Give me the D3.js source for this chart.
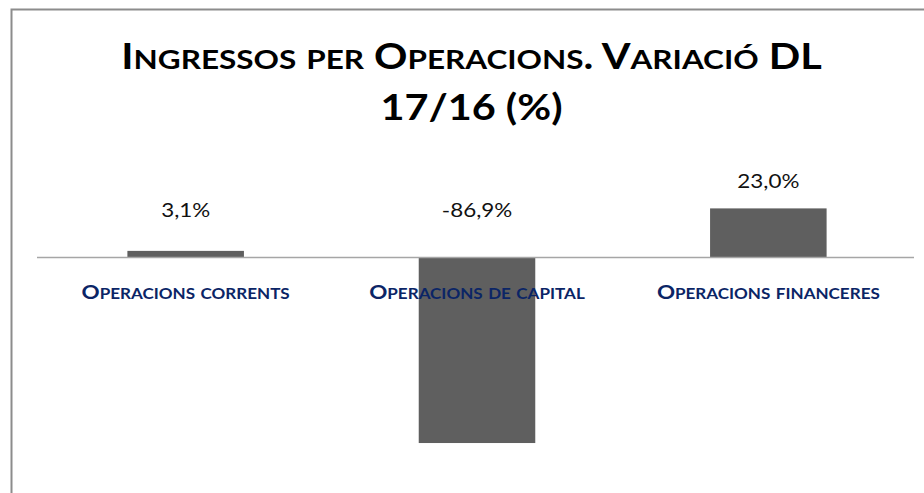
<!DOCTYPE html>
<html>
<head>
<meta charset="utf-8">
<script src="https://cdn.jsdelivr.net/npm/d3@7"></script>
<style>body{margin:0;background:#fff;}</style>
</head>
<body>
<div id="chart"></div>
<script>
const categories = ["Operacions corrents", "Operacions de capital", "Operacions financeres"];
const values = [3.1, -86.9, 23.0];
const titleLines = ["Ingressos per Operacions. Variació DL", "17/16 (%)"];

const W = 924, H = 493;
const STRETCH = 1.15;      // the original picture is stretched sideways
const FONT = "Lato, 'Open Sans', sans-serif";
const SC = 0.76;           // small caps size ratio

const svg = d3.select("#chart").append("svg")
    .attr("width", W)
    .attr("height", H);

// chart frame
svg.append("rect")
    .attr("x", 11.5).attr("y", 9.5)
    .attr("width", W).attr("height", H)
    .attr("fill", "#fff")
    .attr("stroke", "#8c8c8c")
    .attr("stroke-width", 2);

const x = d3.scaleBand()
    .domain(categories)
    .range([40, 914])
    .paddingInner(0.6)
    .paddingOuter(0.3);

const y = d3.scaleLinear()
    .domain([-100, 40])
    .range([471, 172.1]);

// write str into a text element, lowercase runs as smaller capitals
function smallCaps(text, str, size) {
    let runs = [];
    for (const c of str) {
        let low = c !== c.toUpperCase();
        if (runs.length && runs[runs.length - 1].low === low) runs[runs.length - 1].s += c;
        else runs.push({low: low, s: c});
    }
    runs.forEach(r => {
        text.append("tspan")
            .attr("font-size", r.low ? size * SC : size)
            .text(r.s.toUpperCase());
    });
}

function stretchedText(cx, by) {
    return svg.append("g")
        .attr("transform", "translate(" + cx + "," + by + ") scale(" + STRETCH + ",1)")
        .append("text")
        .attr("text-anchor", "middle")
        .attr("font-family", FONT);
}

// title
titleLines.forEach((line, i) => {
    let t = stretchedText(471.5, 68.5 + i * 51.5)
        .attr("font-weight", "bold")
        .attr("fill", "#000");
    smallCaps(t, line, 36);
});

// bars
svg.selectAll("rect.bar")
    .data(values)
    .join("rect")
    .attr("class", "bar")
    .attr("x", (d, i) => x(categories[i]))
    .attr("width", x.bandwidth())
    .attr("y", d => y(Math.max(d, 0)))
    .attr("height", d => Math.abs(y(d) - y(0)))
    .attr("fill", "#5f5f5f");

// zero axis
svg.append("line")
    .attr("x1", 37).attr("x2", 914)
    .attr("y1", y(0)).attr("y2", y(0))
    .attr("stroke", "#a6a6a6")
    .attr("stroke-width", 1.5);

// category labels
categories.forEach(c => {
    let t = stretchedText(x(c) + x.bandwidth() / 2, y(0) + 41.5)
        .attr("font-weight", "bold")
        .attr("fill", "#0b2566");
    smallCaps(t, c, 19.5);
});

// value labels, kept above a floor line like the original
const fmt = v => d3.format(".1f")(v).replace(".", ",").replace("\u2212", "-") + "%";
values.forEach((v, i) => {
    stretchedText(x(categories[i]) + x.bandwidth() / 2, y(Math.max(v, 9.5)) - 20)
        .attr("font-size", 19.5)
        .attr("fill", "#111")
        .text(fmt(v));
});
</script>
</body>
</html>
